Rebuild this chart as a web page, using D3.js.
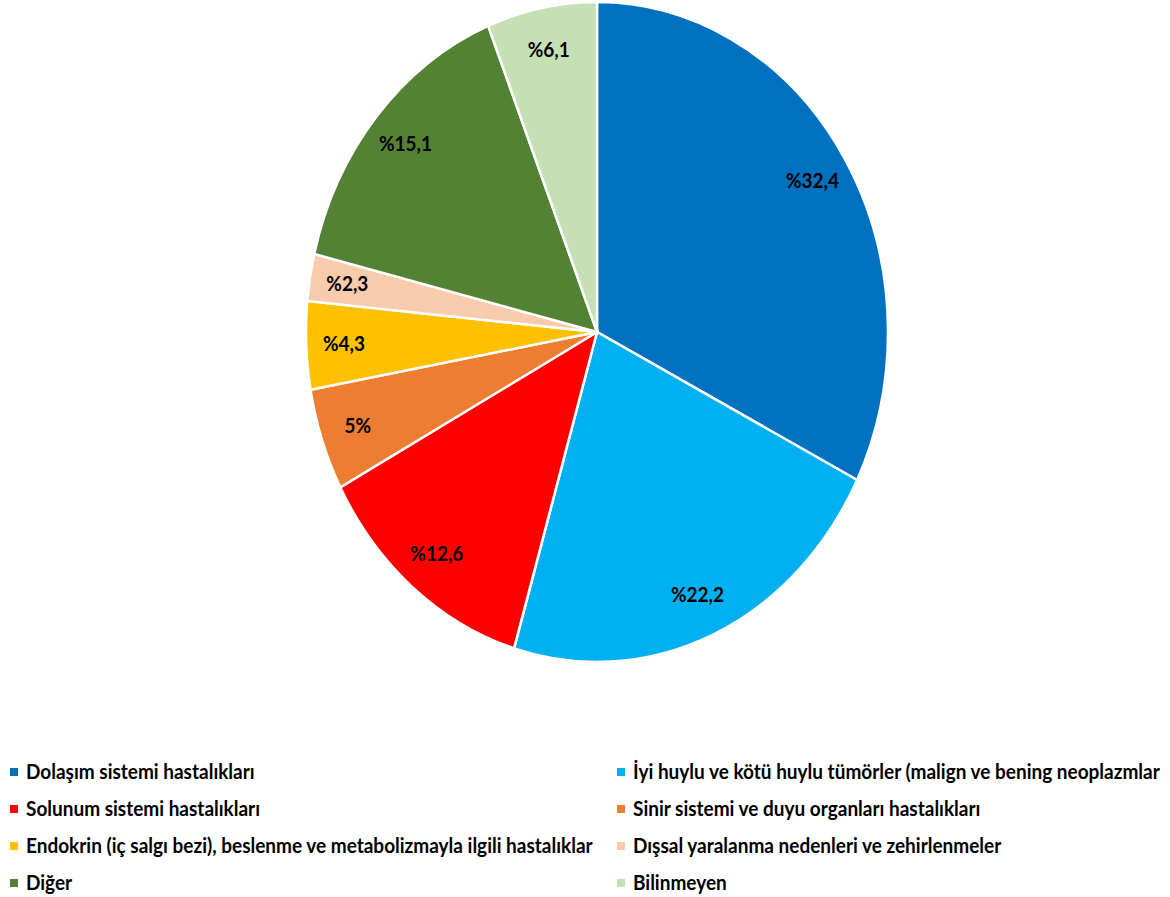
<!DOCTYPE html>
<html><head><meta charset="utf-8">
<script src="https://cdn.jsdelivr.net/npm/d3@7/dist/d3.min.js"></script>
<style>body{margin:0;background:#fff}svg{display:block}</style>
</head><body>
<svg id="chart" width="1170" height="897"></svg>
<script>
const categories = [
  "Dolaşım sistemi hastalıkları",
  "İyi huylu ve kötü huylu tümörler (malign ve bening neoplazmlar",
  "Solunum sistemi hastalıkları",
  "Sinir sistemi ve duyu organları hastalıkları",
  "Endokrin (iç salgı bezi), beslenme ve metabolizmayla ilgili hastalıklar",
  "Dışsal yaralanma nedenleri ve zehirlenmeler",
  "Diğer",
  "Bilinmeyen"
];
const values = [32.4, 22.2, 12.6, 5, 4.3, 2.3, 15.1, 6.1];
const labels = ["%32,4", "%22,2", "%12,6", "5%", "%4,3", "%2,3", "%15,1", "%6,1"];
const colors = ["#0070C0", "#00B0F0", "#FF0000", "#ED7D31", "#FFC000", "#F8CBAD", "#548235", "#C5E0B4"];

const svg = d3.select("#chart");
const cx = 597, cy = 332, R = 291, RY = 330;
const sy = RY / R;
const FONT = "Lato, 'Open Sans', sans-serif";

const data = categories.map((c, i) => ({cat: c, value: values[i], label: labels[i], color: colors[i]}));
const pie = d3.pie().sort(null).value(d => d.value);
const arcs = pie(data);
const arc = d3.arc().innerRadius(0).outerRadius(R);
const labelArc = d3.arc().innerRadius(R * 0.87).outerRadius(R * 0.87);

const g = svg.append("g").attr("transform", `translate(${cx},${cy}) scale(1,${sy})`);
g.selectAll("path").data(arcs).enter().append("path")
  .attr("d", arc)
  .attr("fill", d => d.data.color)
  .attr("stroke", "#fff")
  .attr("stroke-width", 2.5)
  .attr("vector-effect", "non-scaling-stroke");

svg.append("g").selectAll("text").data(arcs).enter().append("text")
  .attr("transform", d => {
    const [x, y] = labelArc.centroid(d);
    return `translate(${cx + x},${cy + y * sy}) scale(1,1.05)`;
  })
  .attr("text-anchor", "middle")
  .attr("dy", "0.35em")
  .attr("font-family", FONT)
  .attr("font-weight", "bold")
  .attr("font-size", 19)
  .attr("fill", "#000")
  .text(d => d.data.label);

// legend
const colX = [10, 617];
const rowY = [772, 809, 846, 883];
const leg = svg.append("g").selectAll("g").data(data).enter().append("g")
  .attr("transform", (d, i) => `translate(${colX[i % 2]},${rowY[Math.floor(i / 2)]})`);
leg.append("rect").attr("x", 0).attr("y", -4).attr("width", 8).attr("height", 8).attr("fill", d => d.color);
leg.append("text")
  .attr("transform", "translate(16,0) scale(1,1.05)")
  .attr("dy", "0.35em")
  .attr("font-family", FONT)
  .attr("font-weight", "bold")
  .attr("font-size", 19)
  .attr("fill", "#000")
  .text(d => d.cat);
</script>
</body></html>
